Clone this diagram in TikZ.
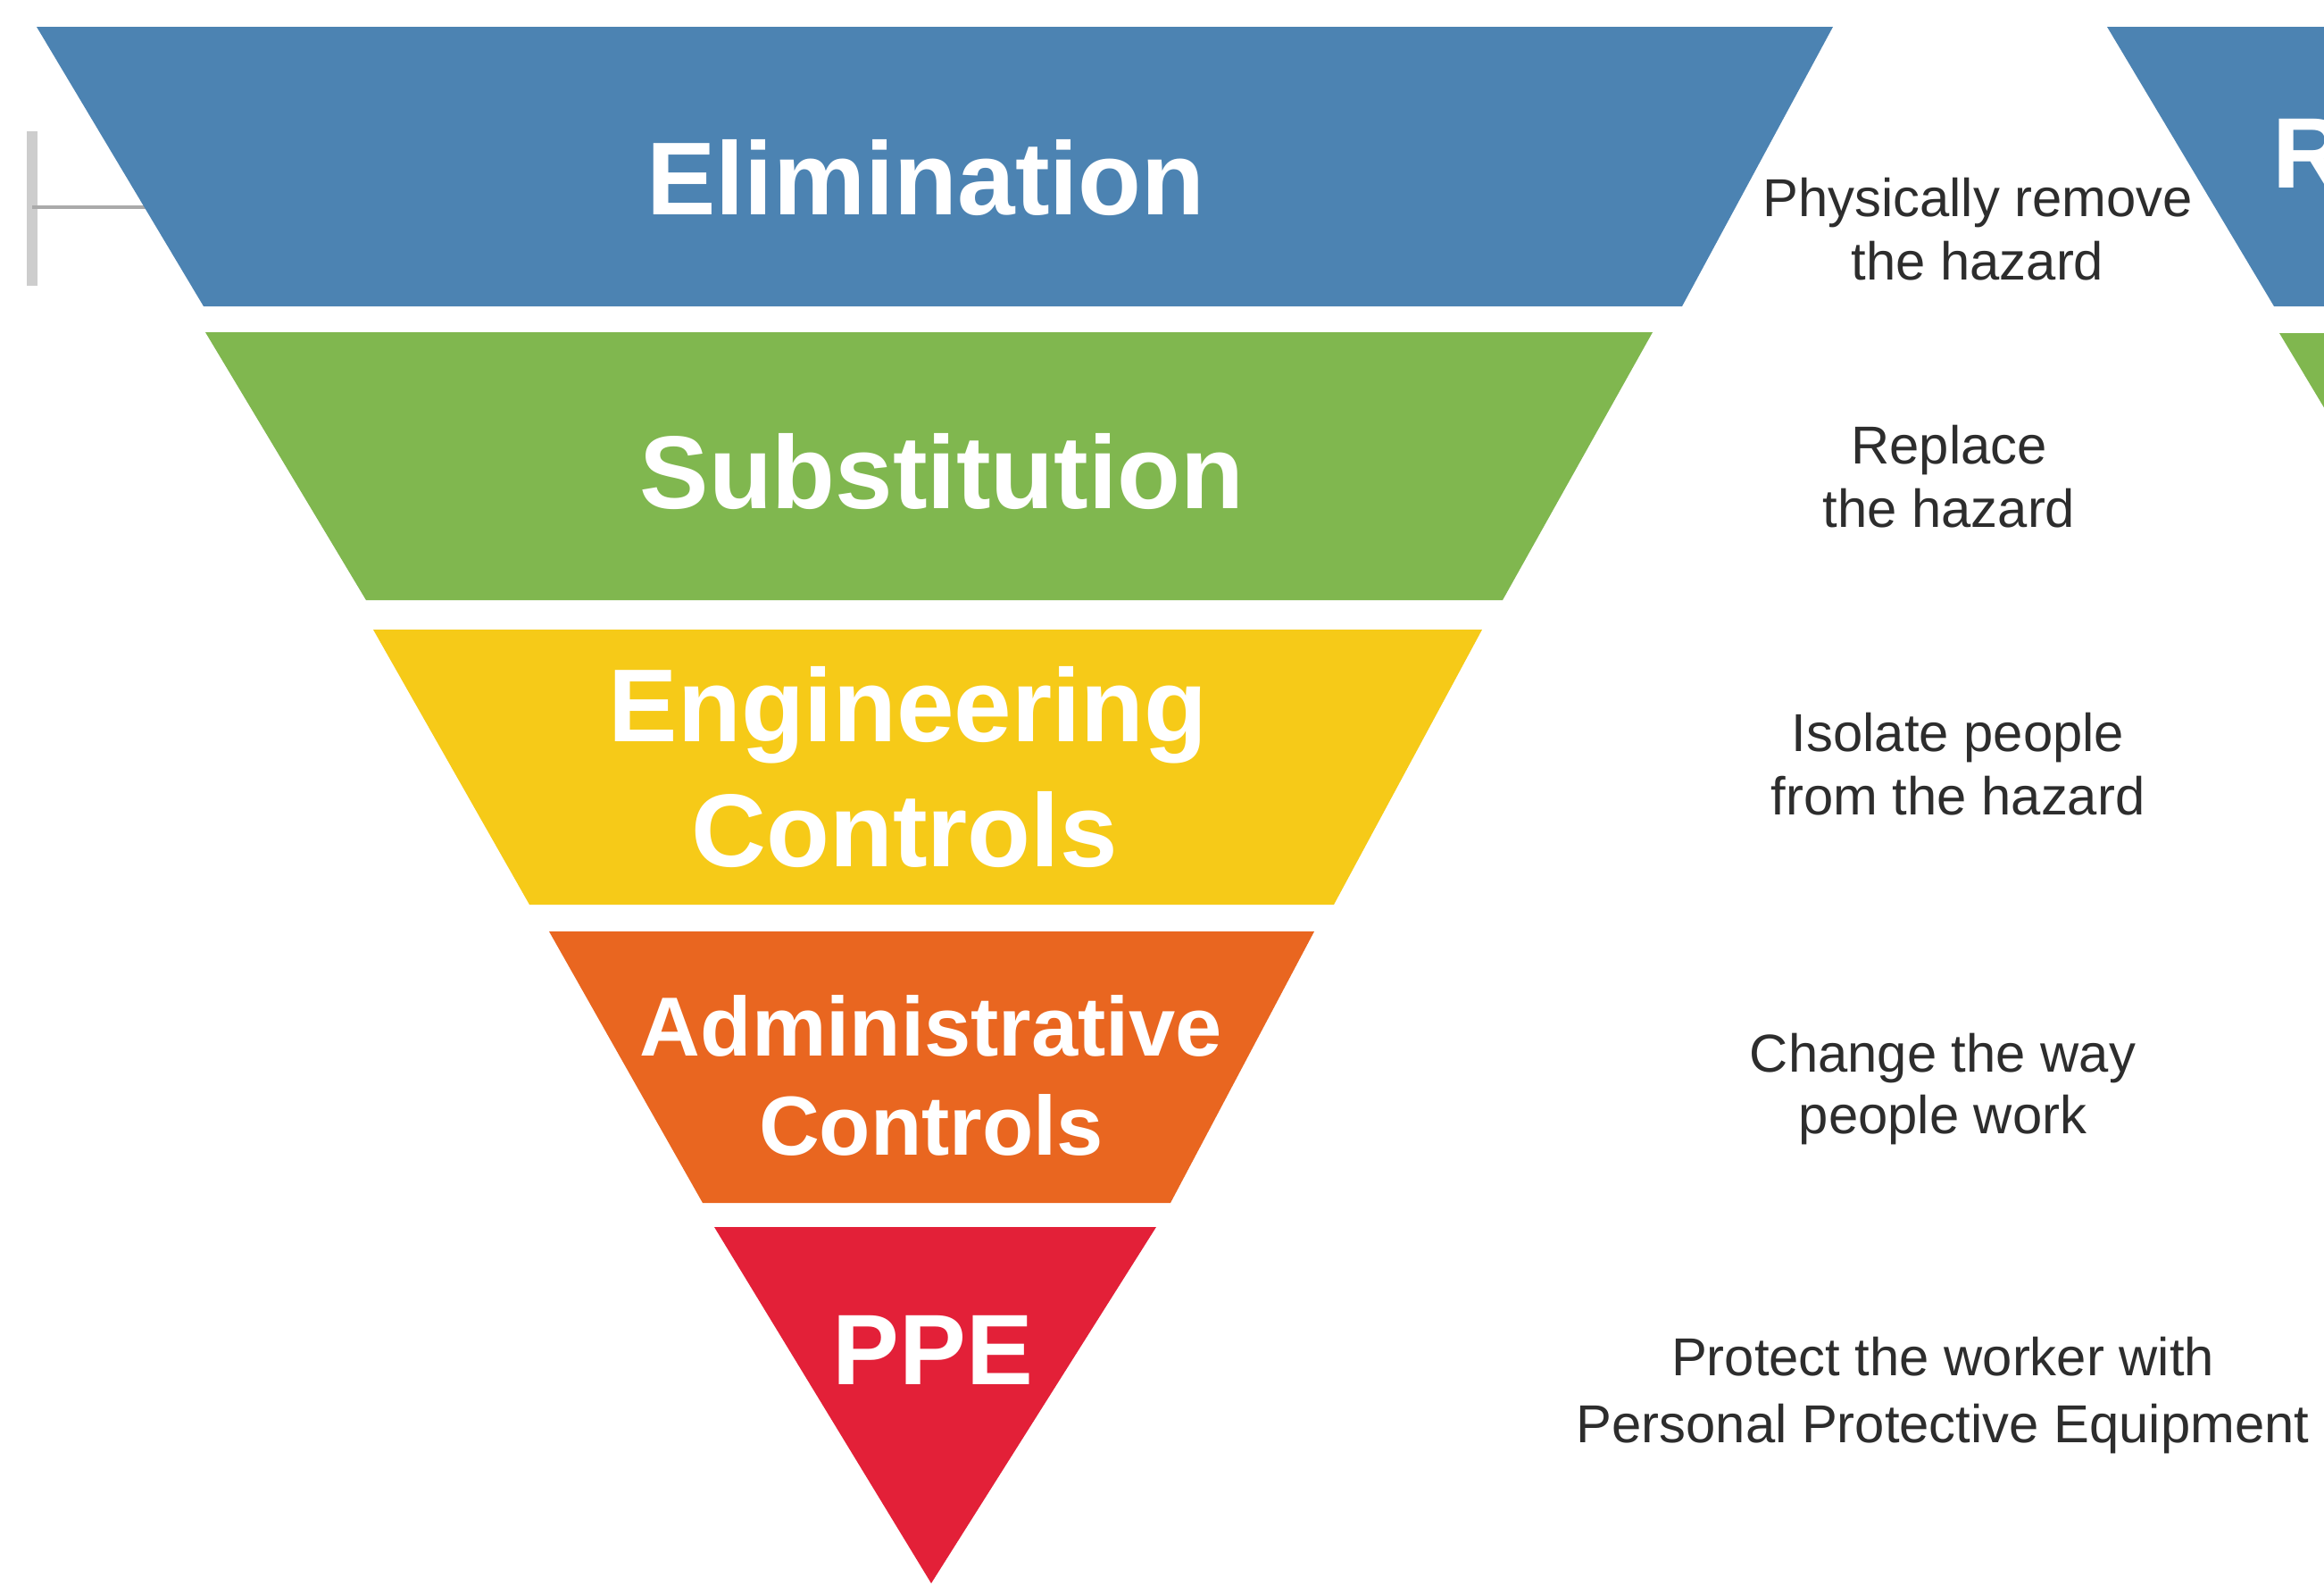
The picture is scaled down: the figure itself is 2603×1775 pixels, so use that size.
\documentclass[tikz,border=0pt]{standalone}
\usepackage{fontspec}
\setmainfont{Liberation Sans}
\definecolor{cblue}{RGB}{76,131,178}
\definecolor{cgreen}{RGB}{128,183,79}
\definecolor{cyellow}{RGB}{246,202,24}
\definecolor{corange}{RGB}{233,102,32}
\definecolor{cred}{RGB}{227,32,56}
\definecolor{descgray}{RGB}{45,45,45}
\definecolor{brgray}{RGB}{205,205,205}
\definecolor{brgraydark}{RGB}{170,170,170}
\tikzset{
  band/.style={inner sep=0pt, anchor=base, text=white, font=\fontsize{33}{40}\selectfont\bfseries},
  bandsmall/.style={band, font=\fontsize{26.7}{32}\selectfont\bfseries},
  bandppe/.style={band, font=\fontsize{31.9}{38}\selectfont\bfseries},
  desc/.style={inner sep=0pt, anchor=base, text=descgray, font=\fontsize{17}{21}\selectfont},
  brvert/.style={draw=brgray, line width=3.4pt},
  brhor/.style={draw=brgraydark, line width=1.4pt}
}
\begin{document}
\begin{tikzpicture}[x=0.01cm,y=-0.01cm]
\useasboundingbox (0,0) rectangle (2603,1775);
\clip (0,0) rectangle (2603,1775);
\fill[white] (0,0) rectangle (2603,1775);

% grey bracket at the left
\coordinate (bt) at (36,147);
\coordinate (bb) at (36,320);
\coordinate (bm) at (36,232);
\coordinate (be) at (165,232);
\draw[brvert] (bt) -- (bb);
\draw[brhor] (bm) -- (be);

% bands of the inverted pyramid
\fill[cblue]   (41,30) -- (2053,30) -- (1884,343) -- (228,343) -- cycle;
\fill[cgreen]  (230,372) -- (1851,372) -- (1683,672) -- (410,672) -- cycle;
\fill[cyellow] (418,705) -- (1660,705) -- (1494,1013) -- (593,1013) -- cycle;
\fill[corange] (615,1043) -- (1472,1043) -- (1311,1347) -- (787,1347) -- cycle;
\fill[cred]    (800,1374) -- (1295,1374) -- (1043,1773) -- cycle;

% second pyramid, cut off at the right
\fill[cblue]  (2360,30) -- (2800,30) -- (2800,343) -- (2547,343) -- cycle;
\fill[cgreen] (2553,373) -- (2800,373) -- (2800,700) -- (2749,700) -- cycle;
\node[bandppe, anchor=base west] (r2) at (2545,210) {R};

% band labels
\node[band] (elim) at (1037,240) {Elimination};
\node[band] (subst) at (1055,569) {Substitution};
\node[band] (eng1) at (1017,830) {Engineering};
\node[band] (eng2) at (1013,970) {Controls};
\node[bandsmall] (adm1) at (1043,1182) {Administrative};
\node[bandsmall] (adm2) at (1043,1293) {Controls};
\node[bandppe] (ppe) at (1045,1550) {PPE};

% descriptions
\node[desc] (d1a) at (2215,242) {Physically remove};
\node[desc] (d1b) at (2215,313) {the hazard};
\node[desc] (d2a) at (2183,519) {Replace};
\node[desc] (d2b) at (2183,590) {the hazard};
\node[desc] (d3a) at (2193,841) {Isolate people};
\node[desc] (d3b) at (2193,912) {from the hazard};
\node[desc] (d4a) at (2176,1200) {Change the way};
\node[desc] (d4b) at (2176,1269) {people work};
\node[desc] (d5a) at (2176,1540) {Protect the worker with};
\node[desc] (d5b) at (2176,1615) {Personal Protective Equipment};
\end{tikzpicture}
\end{document}
